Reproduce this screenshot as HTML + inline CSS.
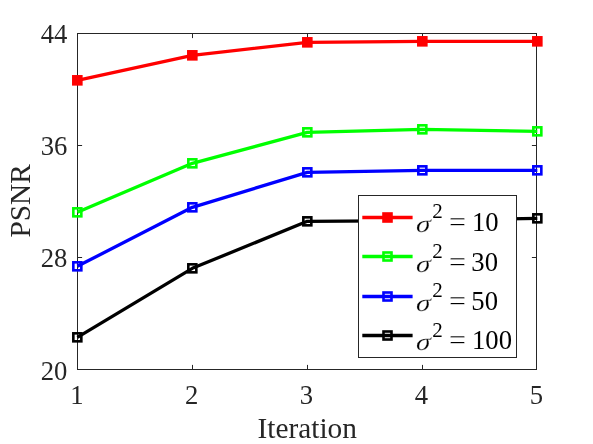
<!DOCTYPE html>
<html><head><meta charset="utf-8"><title>PSNR vs Iteration</title>
<style>
html,body{margin:0;padding:0;background:#fff;}
body{width:593px;height:444px;overflow:hidden;}
svg{display:block;will-change:transform;}
text{font-family:"Liberation Serif",serif;fill:#262626;}
.lg text{fill:#000;}
.i{font-style:italic;}
</style></head><body>
<svg width="593" height="444" viewBox="0 0 593 444">
<rect x="0" y="0" width="593" height="444" fill="#ffffff"/>

<rect x="77.5" y="33.5" width="459.0" height="336.0" fill="none" stroke="#262626" stroke-width="1"/>
<path d="M192.5 369.5V364.9M192.5 33.5V38.1" stroke="#262626" stroke-width="1" fill="none"/>
<path d="M307.5 369.5V364.9M307.5 33.5V38.1" stroke="#262626" stroke-width="1" fill="none"/>
<path d="M422.5 369.5V364.9M422.5 33.5V38.1" stroke="#262626" stroke-width="1" fill="none"/>
<path d="M77.5 257.5H82.1M536.5 257.5H531.9" stroke="#262626" stroke-width="1" fill="none"/>
<path d="M77.5 145.5H82.1M536.5 145.5H531.9" stroke="#262626" stroke-width="1" fill="none"/>
<polyline points="77.33,80.33 192.33,55.33 307.33,42.33 422.33,41.33 537.33,41.33" fill="none" stroke="#ff0000" stroke-width="3.3" stroke-linejoin="round"/>
<rect x="73.33" y="76.33" width="8.0" height="8.0" fill="#ff0000" stroke="#ff0000" stroke-width="2.6"/>
<rect x="188.33" y="51.33" width="8.0" height="8.0" fill="#ff0000" stroke="#ff0000" stroke-width="2.6"/>
<rect x="303.33" y="38.33" width="8.0" height="8.0" fill="#ff0000" stroke="#ff0000" stroke-width="2.6"/>
<rect x="418.33" y="37.33" width="8.0" height="8.0" fill="#ff0000" stroke="#ff0000" stroke-width="2.6"/>
<rect x="533.33" y="37.33" width="8.0" height="8.0" fill="#ff0000" stroke="#ff0000" stroke-width="2.6"/>
<polyline points="77.33,212.33 192.33,163.33 307.33,132.33 422.33,129.33 537.33,131.33" fill="none" stroke="#00ff00" stroke-width="3.3" stroke-linejoin="round"/>
<rect x="73.33" y="208.33" width="8.0" height="8.0" fill="none" stroke="#00ff00" stroke-width="2.6"/>
<rect x="188.33" y="159.33" width="8.0" height="8.0" fill="none" stroke="#00ff00" stroke-width="2.6"/>
<rect x="303.33" y="128.33" width="8.0" height="8.0" fill="none" stroke="#00ff00" stroke-width="2.6"/>
<rect x="418.33" y="125.33" width="8.0" height="8.0" fill="none" stroke="#00ff00" stroke-width="2.6"/>
<rect x="533.33" y="127.33" width="8.0" height="8.0" fill="none" stroke="#00ff00" stroke-width="2.6"/>
<polyline points="77.33,266.33 192.33,207.33 307.33,172.33 422.33,170.33 537.33,170.33" fill="none" stroke="#0000ff" stroke-width="3.3" stroke-linejoin="round"/>
<rect x="73.33" y="262.33" width="8.0" height="8.0" fill="none" stroke="#0000ff" stroke-width="2.6"/>
<rect x="188.33" y="203.33" width="8.0" height="8.0" fill="none" stroke="#0000ff" stroke-width="2.6"/>
<rect x="303.33" y="168.33" width="8.0" height="8.0" fill="none" stroke="#0000ff" stroke-width="2.6"/>
<rect x="418.33" y="166.33" width="8.0" height="8.0" fill="none" stroke="#0000ff" stroke-width="2.6"/>
<rect x="533.33" y="166.33" width="8.0" height="8.0" fill="none" stroke="#0000ff" stroke-width="2.6"/>
<polyline points="77.33,337.33 192.33,268.33 307.33,221.33 422.33,220.60 537.33,218.33" fill="none" stroke="#000000" stroke-width="3.3" stroke-linejoin="round"/>
<rect x="73.33" y="333.33" width="8.0" height="8.0" fill="none" stroke="#000000" stroke-width="2.6"/>
<rect x="188.33" y="264.33" width="8.0" height="8.0" fill="none" stroke="#000000" stroke-width="2.6"/>
<rect x="303.33" y="217.33" width="8.0" height="8.0" fill="none" stroke="#000000" stroke-width="2.6"/>
<rect x="418.33" y="216.60" width="8.0" height="8.0" fill="none" stroke="#000000" stroke-width="2.6"/>
<rect x="533.33" y="214.33" width="8.0" height="8.0" fill="none" stroke="#000000" stroke-width="2.6"/>
<text x="76.9" y="403.7" font-size="26.67" text-anchor="middle">1</text>
<text x="191.7" y="403.7" font-size="26.67" text-anchor="middle">2</text>
<text x="306.5" y="403.7" font-size="26.67" text-anchor="middle">3</text>
<text x="421.5" y="403.7" font-size="26.67" text-anchor="middle">4</text>
<text x="536.5" y="403.7" font-size="26.67" text-anchor="middle">5</text>
<text x="67.3" y="42.5" font-size="26.67" text-anchor="end">44</text>
<text x="67.3" y="154.6" font-size="26.67" text-anchor="end">36</text>
<text x="67.3" y="267.2" font-size="26.67" text-anchor="end">28</text>
<text x="67.3" y="380.0" font-size="26.67" text-anchor="end">20</text>
<text x="307.2" y="437.6" font-size="29.33" text-anchor="middle">Iteration</text>
<text transform="translate(30,200.9) rotate(-90)" font-size="29.33" text-anchor="middle">PSNR</text>
<g class="lg">
<rect x="358.5" y="195.5" width="158.0" height="162.0" fill="#ffffff" stroke="#262626" stroke-width="1"/>
<path d="M362.3 217.5H412.6" stroke="#ff0000" stroke-width="3.3" fill="none"/>
<rect x="383.50" y="213.50" width="8.0" height="8.0" fill="#ff0000" stroke="#ff0000" stroke-width="2.6"/>
<text transform="translate(415.6,231.9) skewX(-7) scale(1.07,0.93)" font-size="26.67" class="i" stroke="#fff" stroke-width="0.25">σ</text>
<text x="432.2" y="218.2" font-size="21">2</text>
<text x="449" y="231" font-size="26.67" textLength="17" lengthAdjust="spacingAndGlyphs" stroke="#fff" stroke-width="0.3">=</text>
<text x="472" y="231" font-size="26.67">10</text>
<path d="M362.3 256.5H412.6" stroke="#00ff00" stroke-width="3.3" fill="none"/>
<rect x="383.50" y="252.50" width="8.0" height="8.0" fill="none" stroke="#00ff00" stroke-width="2.6"/>
<text transform="translate(415.6,271.59999999999997) skewX(-7) scale(1.07,0.93)" font-size="26.67" class="i" stroke="#fff" stroke-width="0.25">σ</text>
<text x="432.2" y="257.9" font-size="21">2</text>
<text x="449" y="270.7" font-size="26.67" textLength="17" lengthAdjust="spacingAndGlyphs" stroke="#fff" stroke-width="0.3">=</text>
<text x="471.3" y="270.7" font-size="26.67">30</text>
<path d="M362.3 296.5H412.6" stroke="#0000ff" stroke-width="3.3" fill="none"/>
<rect x="383.50" y="292.50" width="8.0" height="8.0" fill="none" stroke="#0000ff" stroke-width="2.6"/>
<text transform="translate(415.6,310.5) skewX(-7) scale(1.07,0.93)" font-size="26.67" class="i" stroke="#fff" stroke-width="0.25">σ</text>
<text x="432.2" y="296.8" font-size="21">2</text>
<text x="449" y="309.6" font-size="26.67" textLength="17" lengthAdjust="spacingAndGlyphs" stroke="#fff" stroke-width="0.3">=</text>
<text x="471.3" y="309.6" font-size="26.67">50</text>
<path d="M362.3 335.5H412.6" stroke="#000000" stroke-width="3.3" fill="none"/>
<rect x="383.50" y="331.50" width="8.0" height="8.0" fill="none" stroke="#000000" stroke-width="2.6"/>
<text transform="translate(415.6,350.29999999999995) skewX(-7) scale(1.07,0.93)" font-size="26.67" class="i" stroke="#fff" stroke-width="0.25">σ</text>
<text x="432.2" y="336.59999999999997" font-size="21">2</text>
<text x="449" y="349.4" font-size="26.67" textLength="17" lengthAdjust="spacingAndGlyphs" stroke="#fff" stroke-width="0.3">=</text>
<text x="472" y="349.4" font-size="26.67">100</text>
</g>
</svg></body></html>
